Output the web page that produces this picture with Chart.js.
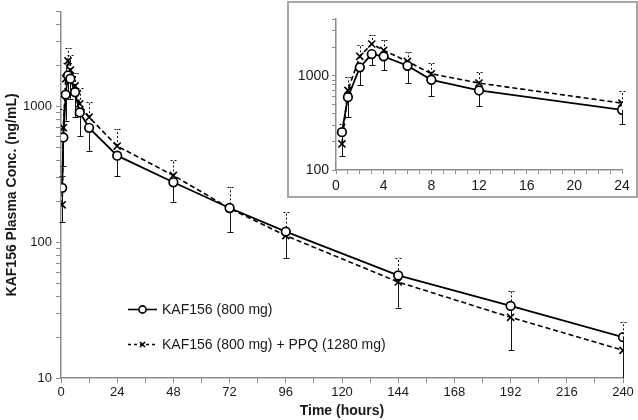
<!DOCTYPE html>
<html><head><meta charset="utf-8">
<script src="https://cdn.jsdelivr.net/npm/chart.js@4.4.1/dist/chart.umd.min.js"></script>
<style>
html,body{margin:0;padding:0;background:#fff;}
#wrap{position:relative;width:638px;height:420px;overflow:hidden;}
#main{position:absolute;left:0;top:0;}
#insetBox{position:absolute;left:287px;top:1px;width:351px;height:197px;box-sizing:border-box;border:2px solid #a6a6a6;background:#fff;}
#inset{position:absolute;left:0;top:0;}
</style></head><body>
<div id="wrap">
<canvas id="main" width="638" height="420"></canvas>
<div id="insetBox"><canvas id="inset" width="347" height="193"></canvas></div>
</div>
<script>
// ---- data ----
const timeHours    = [0.5, 1, 2, 3, 4, 6, 8, 12, 24, 48, 72, 96, 144, 192, 240];
const kafMean      = [252, 593, 1227, 1700, 1607, 1277, 906, 698, 435, 277, 179, 120, 57, 34, 20];
const kafLowerSD   = [141, 363, 789, 1288, 1140, 836, 603, 472, 306, 198, 119, 76, 33, 16, 9];
const comboMean    = [189, 700, 1607, 2173, 1861, 1420, 1050, 836, 512, 311, 178, 112, 51, 28, 16];
const comboUpperSD = [308, 960, 2102, 2686, 2415, 1771, 1364, 1085, 681, 401, 255, 166, 77, 44, 26];
const seriesLabels = ['KAF156 (800 mg)', 'KAF156 (800 mg) + PPQ (1280 mg)'];

const mainXTicks   = [0,12,24,36,48,60,72,84,96,108,120,132,144,156,168,180,192,204,216,228,240];
const mainXLabels  = [0,24,48,72,96,120,144,168,192,216,240];
const mainYTicks   = [10,20,30,40,50,60,70,80,90,100,200,300,400,500,600,700,800,900,1000,2000,3000,4000,5000];
const mainYLabels  = [10,100,1000];
const insetMaxHour = 24;
const insetXTicks  = [0,1,2,3,4,5,6,7,8,9,10,11,12,13,14,15,16,17,18,19,20,21,22,23,24];
const insetXLabels = [0,4,8,12,16,20,24];
const insetYTicks  = [100,200,300,400,500,600,700,800,900,1000,2000,3000,4000];
const insetYLabels = [100,1000];

const FONT = '"Liberation Sans", Arial, Helvetica, sans-serif';
const AXIS = '#8c8c8c';
const TXT = '#1a1a1a';

function pts(xs, ys, maxX) {
  const out = [];
  xs.forEach((x, i) => { if (maxX === undefined || x <= maxX) out.push({x: x, y: ys[i]}); });
  return out;
}
function errs(xs, ys, maxX) {
  return xs.map((x, i) => ({x: x, y: ys[i]})).filter(p => maxX === undefined || p.x <= maxX);
}

function makeDatasets(maxX, scale) {
  return [
    {
      label: seriesLabels[0],
      data: pts(timeHours, kafMean, maxX),
      errorTo: errs(timeHours, kafLowerSD, maxX),
      errorDash: [],
      borderColor: '#000', borderWidth: 1.8,
      pointStyle: 'circle', pointRadius: 4.3 * scale, pointBorderWidth: 1.7,
      pointBackgroundColor: '#fff', pointBorderColor: '#000',
      tension: 0, order: 1
    },
    {
      label: seriesLabels[1],
      data: pts(timeHours, comboMean, maxX),
      errorTo: errs(timeHours, comboUpperSD, maxX),
      errorDash: [2, 2],
      borderColor: '#000', borderWidth: 1.6, borderDash: [5, 3],
      pointStyle: 'crossRot', pointRadius: 5 * scale, pointBorderWidth: 1.6,
      pointBackgroundColor: '#fff', pointBorderColor: '#000',
      tension: 0, order: 2
    }
  ];
}

const errorBarPlugin = {
  id: 'errbars',
  beforeDatasetsDraw(chart) {
    const ctx = chart.ctx, a = chart.chartArea;
    const xs = chart.scales.x, ys = chart.scales.y;
    ctx.save();
    ctx.beginPath(); ctx.rect(a.left - 5, a.top, a.right - a.left + 10, a.bottom - a.top); ctx.clip();
    chart.data.datasets.forEach(ds => {
      ctx.strokeStyle = '#111'; ctx.lineWidth = 1;
      ctx.setLineDash(ds.errorDash);
      ds.data.forEach((p, i) => {
        const e = ds.errorTo[i];
        const x = Math.round(xs.getPixelForValue(p.x)) + 0.5;
        const y0 = ys.getPixelForValue(p.y);
        const y1 = ys.getPixelForValue(e.y);
        ctx.beginPath(); ctx.moveTo(x, y0); ctx.lineTo(x, y1); ctx.stroke();
        ctx.beginPath(); ctx.moveTo(x - 3, Math.round(y1) + 0.5); ctx.lineTo(x + 3, Math.round(y1) + 0.5); ctx.stroke();
      });
    });
    ctx.restore();
  }
};

const legendPlugin = {
  id: 'customLegend',
  afterDraw(chart) {
    const ctx = chart.ctx;
    const rows = [309, 344];
    chart.data.datasets.forEach((ds, i) => {
      const y = rows[i];
      ctx.save();
      ctx.strokeStyle = '#000'; ctx.lineWidth = 1.6;
      ctx.setLineDash(i === 0 ? [] : [3, 3]);
      ctx.beginPath(); ctx.moveTo(128, y + 0.5); ctx.lineTo(157, y + 0.5); ctx.stroke();
      ctx.setLineDash([]);
      ctx.fillStyle = '#fff';
      Chart.helpers.drawPoint(ctx, {pointStyle: ds.pointStyle, radius: 3.6, borderWidth: 1.5, rotation: 0}, 142.5, y + 0.5);
      ctx.fillStyle = TXT;
      ctx.font = '14px ' + FONT;
      ctx.textBaseline = 'middle';
      ctx.fillText(ds.label, 162, y + 1);
      ctx.restore();
    });
  }
};

function tickSetter(values) {
  return function (scale) { scale.ticks = values.map(v => ({value: v})); };
}
function labeller(labels) {
  return function (v) { return labels.indexOf(v) >= 0 ? String(v) : ''; };
}

// ---- main chart ----
new Chart(document.getElementById('main'), {
  type: 'line',
  data: {datasets: makeDatasets(undefined, 1)},
  plugins: [errorBarPlugin, legendPlugin],
  options: {
    responsive: false, animation: false, devicePixelRatio: 1,
    layout: {padding: {top: 10, right: 15, left: 0, bottom: 0}},
    plugins: {legend: {display: false}, tooltip: {enabled: false}},
    scales: {
      x: {
        type: 'linear', min: 0, max: 240,
        afterBuildTicks: tickSetter(mainXTicks),
        afterFit: s => { s.height = 42; },
        grid: {drawOnChartArea: false, drawTicks: true, tickLength: 5, color: AXIS, lineWidth: 1},
        border: {color: AXIS, width: 1.5},
        ticks: {autoSkip: false, maxRotation: 0, padding: 2, color: TXT, font: {family: FONT, size: 13}, callback: labeller(mainXLabels)},
        title: {display: true, text: 'Time (hours)', color: TXT, font: {family: FONT, size: 14, weight: 'bold'}, padding: {top: 0, bottom: 0}}
      },
      y: {
        type: 'logarithmic', min: 10, max: 5000,
        afterBuildTicks: tickSetter(mainYTicks),
        afterFit: s => { s.width = 61; },
        grid: {drawOnChartArea: false, drawTicks: true, tickLength: 5, color: AXIS, lineWidth: 1},
        border: {color: AXIS, width: 1.5},
        ticks: {autoSkip: false, padding: 4, color: TXT, font: {family: FONT, size: 13}, callback: labeller(mainYLabels)},
        title: {display: true, text: 'KAF156 Plasma Conc. (ng/mL)', color: TXT, font: {family: FONT, size: 14, weight: 'bold'}, padding: {top: 4, bottom: 0}}
      }
    }
  }
});

// ---- inset chart (first 24 h) ----
new Chart(document.getElementById('inset'), {
  type: 'line',
  data: {datasets: makeDatasets(insetMaxHour, 1)},
  plugins: [errorBarPlugin],
  options: {
    responsive: false, animation: false, devicePixelRatio: 1,
    layout: {padding: {top: 16, right: 14, left: 0, bottom: 0}},
    plugins: {legend: {display: false}, tooltip: {enabled: false}},
    scales: {
      x: {
        type: 'linear', min: 0, max: 24,
        afterBuildTicks: tickSetter(insetXTicks),
        afterFit: s => { s.height = 26; },
        grid: {drawOnChartArea: false, drawTicks: true, tickLength: 4, color: AXIS, lineWidth: 1},
        border: {color: AXIS, width: 1.5},
        ticks: {autoSkip: false, maxRotation: 0, padding: 4, color: TXT, font: {family: FONT, size: 14}, callback: labeller(insetXLabels)}
      },
      y: {
        type: 'logarithmic', min: 100, max: 4000,
        afterBuildTicks: tickSetter(insetYTicks),
        afterFit: s => { s.width = 47; },
        grid: {drawOnChartArea: false, drawTicks: true, tickLength: 4, color: AXIS, lineWidth: 1},
        border: {color: AXIS, width: 1.5},
        ticks: {autoSkip: false, padding: 3, color: TXT, font: {family: FONT, size: 14}, callback: labeller(insetYLabels)}
      }
    }
  }
});
</script>
</body></html>
